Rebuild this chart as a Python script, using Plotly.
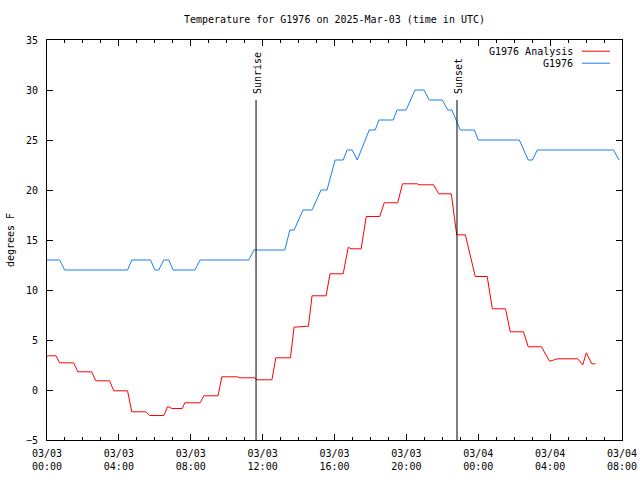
import plotly.graph_objects as go

# ---- data ----
obs_times = [
    "2025-03-03 00:00", "2025-03-03 00:42", "2025-03-03 00:59", "2025-03-03 04:29", "2025-03-03 04:43",
    "2025-03-03 05:46", "2025-03-03 06:00", "2025-03-03 06:13", "2025-03-03 06:30", "2025-03-03 06:47",
    "2025-03-03 07:01", "2025-03-03 08:14", "2025-03-03 08:31", "2025-03-03 11:14", "2025-03-03 11:31",
    "2025-03-03 13:14", "2025-03-03 13:31", "2025-03-03 13:45", "2025-03-03 14:15", "2025-03-03 14:45",
    "2025-03-03 15:15", "2025-03-03 15:35", "2025-03-03 16:02", "2025-03-03 16:29", "2025-03-03 16:42",
    "2025-03-03 16:59", "2025-03-03 17:16", "2025-03-03 17:56", "2025-03-03 18:16", "2025-03-03 18:28",
    "2025-03-03 19:16", "2025-03-03 19:29", "2025-03-03 19:59", "2025-03-03 20:29", "2025-03-03 20:59",
    "2025-03-03 21:16", "2025-03-03 22:00", "2025-03-03 22:18", "2025-03-03 22:32", "2025-03-03 23:00",
    "2025-03-03 23:47", "2025-03-04 00:00", "2025-03-04 02:17", "2025-03-04 02:47", "2025-03-04 03:01",
    "2025-03-04 03:17", "2025-03-04 07:32", "2025-03-04 07:50",
]
obs_temps = [
    13, 13, 12, 12, 13,
    13, 12, 12, 13, 13,
    12, 12, 13, 13, 14,
    14, 16, 16, 18, 18,
    20, 20, 23, 23, 24,
    24, 23, 26, 26, 27,
    27, 28, 28, 30, 30,
    29, 29, 28, 28, 26,
    26, 25, 25, 23, 23,
    24, 24, 23,
]

ana_times = [
    "2025-03-03 00:00", "2025-03-03 00:04", "2025-03-03 00:30", "2025-03-03 00:42", "2025-03-03 01:29",
    "2025-03-03 01:43", "2025-03-03 02:29", "2025-03-03 02:43", "2025-03-03 03:29", "2025-03-03 03:43",
    "2025-03-03 04:29", "2025-03-03 04:43", "2025-03-03 05:30", "2025-03-03 05:43", "2025-03-03 06:30",
    "2025-03-03 06:43", "2025-03-03 06:57", "2025-03-03 07:32", "2025-03-03 07:40", "2025-03-03 08:31",
    "2025-03-03 08:44", "2025-03-03 09:31", "2025-03-03 09:44", "2025-03-03 10:37", "2025-03-03 10:41",
    "2025-03-03 11:34", "2025-03-03 11:40", "2025-03-03 12:31", "2025-03-03 12:44", "2025-03-03 13:33",
    "2025-03-03 13:45", "2025-03-03 14:33", "2025-03-03 14:45", "2025-03-03 15:32", "2025-03-03 15:45",
    "2025-03-03 16:29", "2025-03-03 16:46", "2025-03-03 16:55", "2025-03-03 17:29", "2025-03-03 17:46",
    "2025-03-03 18:31", "2025-03-03 18:46", "2025-03-03 19:31", "2025-03-03 19:47", "2025-03-03 20:37",
    "2025-03-03 20:42", "2025-03-03 21:31", "2025-03-03 21:48", "2025-03-03 22:30", "2025-03-03 22:48",
    "2025-03-03 23:17", "2025-03-03 23:50", "2025-03-04 00:30", "2025-03-04 00:47", "2025-03-04 01:31",
    "2025-03-04 01:47", "2025-03-04 02:31", "2025-03-04 02:47", "2025-03-04 03:31", "2025-03-04 03:58",
    "2025-03-04 04:14", "2025-03-04 04:25", "2025-03-04 05:32", "2025-03-04 05:49", "2025-03-04 06:01",
    "2025-03-04 06:19", "2025-03-04 06:31",
]
ana_temps = [
    3.35, 3.42, 3.42, 2.72, 2.72,
    1.82, 1.82, 0.92, 0.92, -0.08,
    -0.08, -2.18, -2.18, -2.55, -2.55,
    -1.65, -1.85, -1.85, -1.28, -1.28,
    -0.58, -0.58, 1.32, 1.32, 1.22,
    1.22, 1.02, 1.02, 3.22, 3.22,
    6.28, 6.38, 9.42, 9.42, 11.62,
    11.62, 14.28, 14.12, 14.12, 17.35,
    17.35, 18.72, 18.72, 20.62, 20.62,
    20.52, 20.52, 19.62, 19.62, 15.52,
    15.52, 11.35, 11.35, 8.12, 8.12,
    5.82, 5.82, 4.32, 4.32, 2.88,
    3.02, 3.12, 3.12, 2.52, 3.72,
    2.62, 2.62,
]

sun_events = ["Sunrise", "Sunset"]
sun_times = ["2025-03-03 11:38", "2025-03-03 22:49"]
sun_line_top = 29

series_names = ["G1976 Analysis", "G1976"]
series_colors = ["#ff0000", "#1a80f0"]

title_text = "Temperature for G1976 on 2025-Mar-03 (time in UTC)"
y_label = "degrees F"

FONT = "DejaVu Sans Mono"

fig = go.Figure()
fig.add_trace(go.Scatter(x=ana_times, y=ana_temps, mode="lines", name=series_names[0],
                         line=dict(color=series_colors[0], width=1), showlegend=False))
fig.add_trace(go.Scatter(x=obs_times, y=obs_temps, mode="lines", name=series_names[1],
                         line=dict(color=series_colors[1], width=1), showlegend=False))

shapes = []
annotations = []
for name, t in zip(sun_events, sun_times):
    shapes.append(dict(type="line", xref="x", yref="y", x0=t, x1=t, y0=-5, y1=sun_line_top,
                       line=dict(color="black", width=1)))
    annotations.append(dict(x=t, y=sun_line_top, xref="x", yref="y", text=name, textangle=-90,
                            showarrow=False, yanchor="bottom", xanchor="center", yshift=4, xshift=1,
                            font=dict(family=FONT, size=10, color="black")))

# legend drawn as key entries (gnuplot style: text right-aligned, sample line to the right)
leg_y = [0.972, 0.942]
for i, (nm, col) in enumerate(zip(series_names, series_colors)):
    annotations.append(dict(x=0.918, y=leg_y[i], xref="paper", yref="paper", text=nm,
                            showarrow=False, xanchor="right", yanchor="middle",
                            font=dict(family=FONT, size=10, color="black")))
    shapes.append(dict(type="line", xref="paper", yref="paper", x0=0.930, x1=0.979,
                       y0=leg_y[i], y1=leg_y[i], line=dict(color=col, width=1)))

fig.update_layout(
    width=640, height=480,
    margin=dict(l=47, r=18, t=40, b=40, autoexpand=False),
    paper_bgcolor="white", plot_bgcolor="white",
    title=dict(text=title_text, x=0.5, xref="paper", xanchor="center", y=0.96, yanchor="middle",
               font=dict(family=FONT, size=10, color="black")),
    font=dict(family=FONT, size=10, color="black"),
    shapes=shapes, annotations=annotations,
    showlegend=False,
)
fig.update_xaxes(
    type="date", range=["2025-03-03 00:00", "2025-03-04 08:00"],
    dtick=4 * 3600000, tick0="2025-03-03 00:00", tickformat="%m/%d<br>%H:%M",
    ticks="inside", ticklen=6, tickcolor="black", showgrid=False, zeroline=False,
    showline=True, linecolor="black", linewidth=1, mirror="allticks",
    minor=dict(dtick=3600000, ticks="inside", ticklen=3, tickcolor="black", showgrid=False),
    tickfont=dict(family=FONT, size=10), ticklabelstandoff=4, automargin=False,
)
fig.update_yaxes(
    range=[-5, 35], dtick=5, tick0=0,
    ticks="inside", ticklen=6, tickcolor="black", showgrid=False, zeroline=False,
    showline=True, linecolor="black", linewidth=1, mirror="allticks",
    tickfont=dict(family=FONT, size=10), ticklabelstandoff=6, automargin=False,
    title=dict(text=y_label, font=dict(family=FONT, size=10), standoff=9),
)

fig.write_html("out.html", config={"displayModeBar": False},
               post_script="document.body.style.margin='0';document.body.style.padding='0';")
